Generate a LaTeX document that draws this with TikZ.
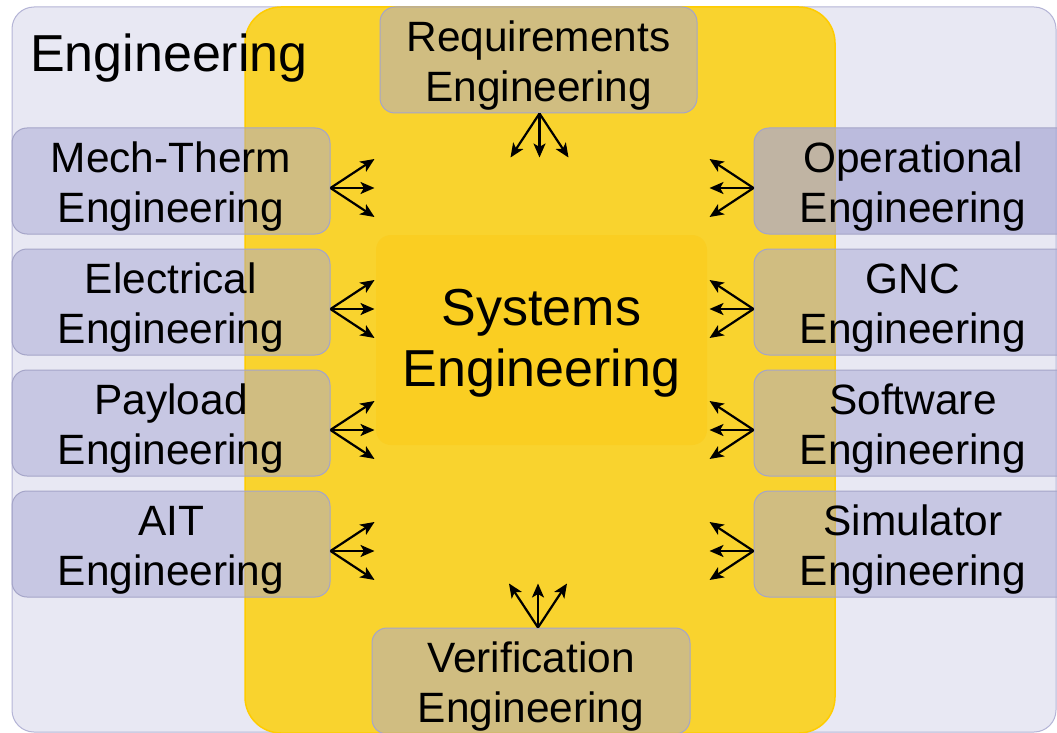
\documentclass[tikz,border=0pt]{standalone}
\usepackage{fontspec}
\setmainfont{Liberation Sans}
\usetikzlibrary{positioning,arrows.meta}
\definecolor{lavback}{RGB}{232,232,243}
\definecolor{lavedge}{RGB}{180,180,214}
\definecolor{sysyellow}{RGB}{249,211,46}
\definecolor{sysedge}{RGB}{255,204,0}
\definecolor{syscore}{RGB}{250,206,34}
\definecolor{discfill}{RGB}{168,168,213}
\definecolor{discedge}{RGB}{165,165,200}
\tikzstyle{discipline} = [rectangle, rounded corners=15pt, minimum width=318pt, minimum height=106pt, text width=310pt, text depth=47pt, align=center, fill=discfill, fill opacity=0.5, text opacity=1, draw=discedge, line width=1pt, font=\fontsize{42.4}{50}\selectfont]
\tikzstyle{fan} = [line width=2.2pt, ->, >={Stealth[length=14pt,width=12pt,inset=3.5pt]}]

\begin{document}
\begin{tikzpicture}[x=1pt, y=-1pt, node distance=14pt]
\useasboundingbox (0,0) rectangle (1057,733);
% engineering area and the systems engineering band
\draw[lavedge, line width=1pt, fill=lavback, rounded corners=22pt] (12,7) rectangle (1056,732);
\draw[sysedge, line width=1.5pt, fill=sysyellow, rounded corners=36pt] (245,7) rectangle (835,733);
\node (eng) [anchor=base west, inner sep=0pt, font=\fontsize{52}{62}\selectfont] at (30,72) {Engineering};
\node (sys) [rectangle, rounded corners=15pt, fill=syscore, minimum width=331pt, minimum height=210pt, text depth=5pt, align=center, font=\fontsize{52}{61}\selectfont] at (541.5,340) {Systems\\Engineering};

% disciplines on the left
\node (mech) [discipline] at (171,181) {Mech-Therm\\Engineering};
\node (elec) [discipline, below=of mech] {Electrical\\Engineering};
\node (payload) [discipline, below=of elec] {Payload\\Engineering};
\node (ait) [discipline, below=of payload] {AIT\\Engineering};

% disciplines on the right
\node (ops) [discipline, fill opacity=0.7, right=423pt of mech] {Operational\\Engineering};
\node (gnc) [discipline, right=423pt of elec] {GNC\\Engineering};
\node (sw) [discipline, right=423pt of payload] {Software\\Engineering};
\node (sim) [discipline, right=423pt of ait] {Simulator\\Engineering};

% top and bottom
\node (req) [discipline, minimum width=317pt] at (538.5,60) {Requirements\\Engineering};
\node (ver) [discipline] at (531,681) {Verification\\Engineering};

% interfaces
\foreach \n in {mech,elec,payload,ait}
  \foreach \dy in {-29,0,29}
    \draw [fan] ([yshift=-7pt]\n.east) -- ++(44,\dy);
\foreach \n in {ops,gnc,sw,sim}
  \foreach \dy in {-29,0,29}
    \draw [fan] ([yshift=-7pt]\n.west) -- ++(-44,\dy);
\foreach \dx in {-29,0,29} {
  \draw [fan] ([xshift=1pt]req.south) -- ++(\dx,44);
  \draw [fan] ([xshift=7pt]ver.north) -- ++(\dx,-44);
}
\end{tikzpicture}
\end{document}
